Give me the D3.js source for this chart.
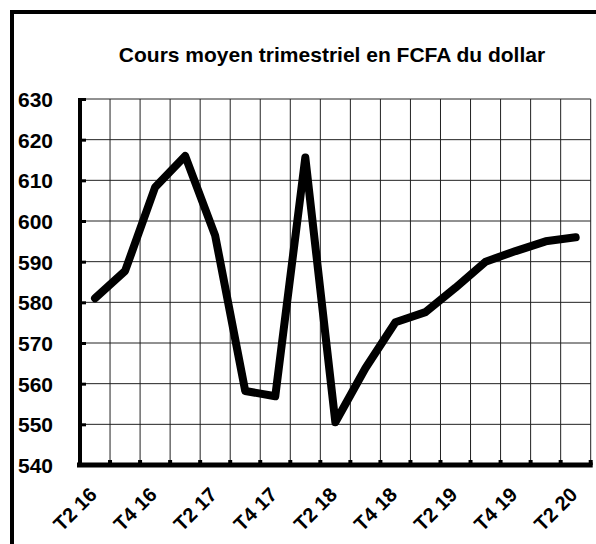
<!DOCTYPE html>
<html>
<head>
<meta charset="utf-8">
<script src="https://cdn.jsdelivr.net/npm/d3@7"></script>
<style>
  body { margin: 0; background: #fff; }
  svg { display: block; font-family: "Liberation Sans", Arial, sans-serif; }
</style>
</head>
<body>
<script>
// quarters from T2 2016 to T2 2020
var categories = ["T2 16", "T3 16", "T4 16", "T1 17", "T2 17", "T3 17", "T4 17", "T1 18",
                  "T2 18", "T3 18", "T4 18", "T1 19", "T2 19", "T3 19", "T4 19", "T1 20", "T2 20"];
// average quarterly rate, FCFA per dollar
var values = [581, 587.7, 608.3, 616, 596.4, 558.2, 556.9, 615.6,
              550.5, 563.8, 575.1, 577.6, 583.6, 590, 592.6, 595, 596];
var yTicks = [540, 550, 560, 570, 580, 590, 600, 610, 620, 630];
var shownLabels = ["T2 16", "T4 16", "T2 17", "T4 17", "T2 18", "T4 18", "T2 19", "T4 19", "T2 20"];
var title = "Cours moyen trimestriel en FCFA du dollar";

var width = 596, height = 544;
var margin = {top: 99, right: 5.3, bottom: 79, left: 80};

var svg = d3.select("body").append("svg")
    .attr("width", width)
    .attr("height", height);

// outer chart frame (runs past the right and bottom edges)
svg.append("rect")
    .attr("x", 12).attr("y", 12)
    .attr("width", 640).attr("height", 600)
    .attr("fill", "none")
    .attr("stroke", "#000")
    .attr("stroke-width", 4);

svg.append("text")
    .attr("x", 332)
    .attr("y", 62)
    .attr("text-anchor", "middle")
    .style("font-size", "21px")
    .style("font-weight", "bold")
    .text(title);

var x = d3.scaleBand()
    .domain(categories)
    .range([margin.left, width - margin.right])
    .padding(0);
var y = d3.scaleLinear()
    .domain([540, 630])
    .range([height - margin.bottom, margin.top]);

// grid
var grid = svg.append("g").attr("stroke", "#222").attr("stroke-width", 1);
grid.selectAll(".hgrid")
    .data(yTicks)
    .enter().append("line")
    .attr("x1", margin.left).attr("x2", width - margin.right)
    .attr("y1", d => y(d)).attr("y2", d => y(d));
var bounds = categories.map(d => x(d)).concat([x.range()[1]]);
grid.selectAll(".vgrid")
    .data(bounds)
    .enter().append("line")
    .attr("x1", d => d).attr("x2", d => d)
    .attr("y1", margin.top).attr("y2", y(540));

// y axis
var yAxis = d3.axisLeft(y)
    .tickValues(yTicks)
    .tickSize(-6)
    .tickPadding(27);
var gy = svg.append("g")
    .attr("transform", "translate(" + margin.left + ",0)")
    .call(yAxis);
gy.select(".domain").remove();
gy.selectAll(".tick line").attr("stroke", "#000").attr("stroke-width", 3);
gy.selectAll(".tick text")
    .attr("fill", "#000")
    .attr("dy", "0.36em")
    .style("font-size", "21px")
    .style("font-weight", "bold")
    .style("font-family", "'Liberation Sans', Arial, sans-serif");
svg.append("line")
    .attr("x1", margin.left).attr("x2", margin.left)
    .attr("y1", margin.top - 1).attr("y2", y(540) + 2)
    .attr("stroke", "#000").attr("stroke-width", 4);

// x axis
var xAxis = d3.axisBottom(x)
    .tickValues(shownLabels)
    .tickSize(0);
var gx = svg.append("g")
    .attr("transform", "translate(0," + y(540) + ")")
    .call(xAxis);
gx.select(".domain").remove();
gx.selectAll(".tick text")
    .attr("fill", "#000")
    .attr("x", 0).attr("y", 0).attr("dy", 0)
    .attr("text-anchor", "end")
    .attr("transform", "translate(3,31) rotate(-45)")
    .style("font-size", "20px")
    .style("font-weight", "bold")
    .style("font-family", "'Liberation Sans', Arial, sans-serif");
// tick squares at category boundaries
svg.append("g").selectAll("rect")
    .data(bounds.slice(1))
    .enter().append("rect")
    .attr("x", d => d - 2).attr("y", y(540) - 5)
    .attr("width", 4).attr("height", 5)
    .attr("fill", "#000");
svg.append("line")
    .attr("x1", margin.left - 3).attr("x2", width - margin.right + 2)
    .attr("y1", y(540)).attr("y2", y(540))
    .attr("stroke", "#000").attr("stroke-width", 5);

// the rate line
var line = d3.line()
    .x((d, i) => x(categories[i]) + x.bandwidth() / 2)
    .y(d => y(d));
svg.append("path")
    .datum(values)
    .attr("d", line)
    .attr("fill", "none")
    .attr("stroke", "#000")
    .attr("stroke-width", 8)
    .attr("stroke-linejoin", "round")
    .attr("stroke-linecap", "round");
</script>
</body>
</html>
